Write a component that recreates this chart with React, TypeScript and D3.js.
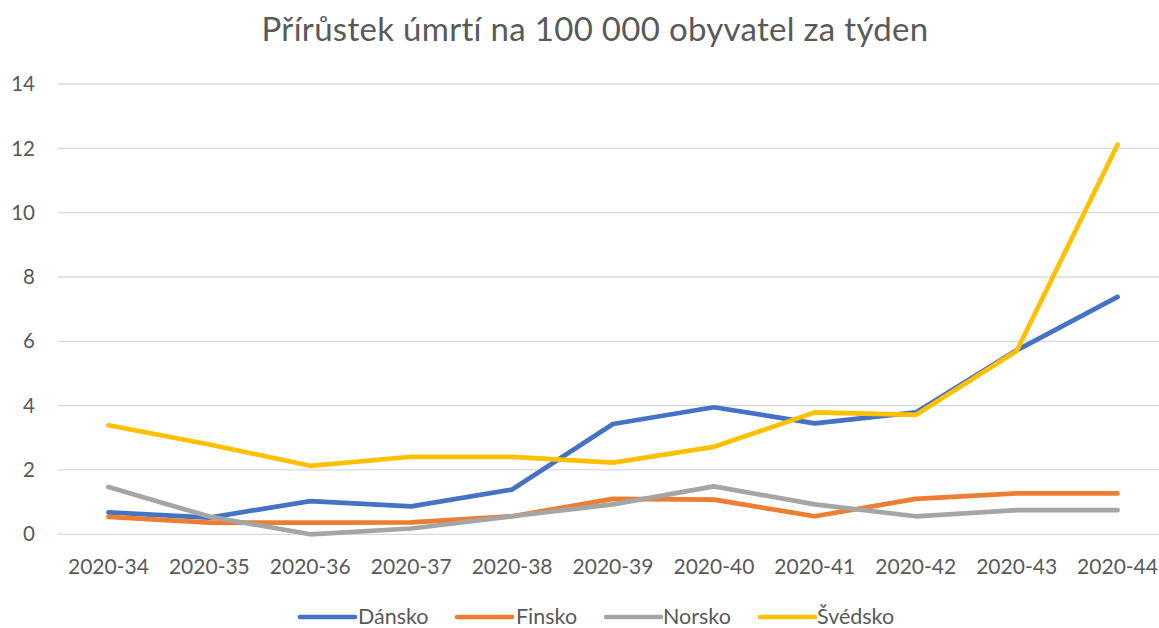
import React from "react";
import * as d3 from "d3";

const weeks = ["2020-34","2020-35","2020-36","2020-37","2020-38","2020-39","2020-40","2020-41","2020-42","2020-43","2020-44"];
const dansko = [0.68, 0.52, 1.03, 0.87, 1.39, 3.43, 3.95, 3.45, 3.79, 5.72, 7.38];
const finsko = [0.54, 0.36, 0.36, 0.37, 0.56, 1.1, 1.08, 0.56, 1.1, 1.27, 1.27];
const norsko = [1.47, 0.55, 0.0, 0.18, 0.56, 0.93, 1.49, 0.93, 0.56, 0.75, 0.75];
const svedsko = [3.39, 2.79, 2.13, 2.41, 2.41, 2.23, 2.72, 3.79, 3.71, 5.7, 12.11];
const yTicks = [0, 2, 4, 6, 8, 10, 12, 14];
const title = "Přírůstek úmrtí na 100 000 obyvatel za týden";

const series = [
  { name: "Dánsko", values: dansko, color: "#4472C4" },
  { name: "Finsko", values: finsko, color: "#ED7D31" },
  { name: "Norsko", values: norsko, color: "#A5A5A5" },
  { name: "Švédsko", values: svedsko, color: "#FFC000" },
];

const W = 1159, H = 628;
const FONT = "Lato, 'Open Sans', sans-serif";
const TXT = "#595959";

export default function App() {
  const x = d3.scaleBand<string>().domain(weeks).range([58, 1168]).paddingInner(0).paddingOuter(0);
  const cx = (c: string) => (x(c) as number) + x.bandwidth() / 2;
  const y = d3.scaleLinear().domain([0, 14]).range([534.3, 84]);
  const line = d3.line<number>().x((_, i) => cx(weeks[i])).y((v) => y(v));

  const legendItems = [
    { lx: 300, tx: 358 },
    { lx: 457, tx: 516 },
    { lx: 606, tx: 663 },
    { lx: 760, tx: 817 },
  ];

  return (
    <svg width={W} height={H} style={{ position: "absolute", left: 0, top: 0, background: "#fff" }} fontFamily={FONT}>
      <rect width={W} height={H} fill="#fff" />
      <text x={595} y={41} textAnchor="middle" fontSize={33} letterSpacing={0.3} fill={TXT}>{title}</text>
      {yTicks.map((t) => (
        <g key={t}>
          <line x1={58} x2={1168} y1={y(t)} y2={y(t)} stroke="#D9D9D9" strokeWidth={1.3} />
          <text x={35} y={y(t)} dy="0.35em" textAnchor="end" fontSize={20.5} fill={TXT}>{t}</text>
        </g>
      ))}
      {weeks.map((w) => (
        <text key={w} x={cx(w)} y={574} textAnchor="middle" fontSize={21} fill={TXT}>{w}</text>
      ))}
      {series.map((s) => (
        <path key={s.name} d={line(s.values) || ""} fill="none" stroke={s.color} strokeWidth={4.7} strokeLinecap="round" strokeLinejoin="round" />
      ))}
      {series.map((s, i) => (
        <g key={s.name}>
          <line x1={legendItems[i].lx} x2={legendItems[i].lx + 55} y1={617} y2={617} stroke={s.color} strokeWidth={4.7} strokeLinecap="round" />
          <text x={legendItems[i].tx} y={624} fontSize={21.5} fill={TXT}>{s.name}</text>
        </g>
      ))}
    </svg>
  );
}
